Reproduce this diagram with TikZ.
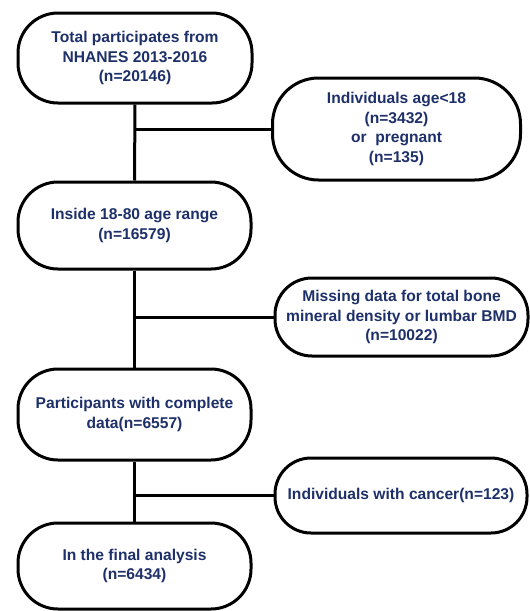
\documentclass[tikz,border=0pt]{standalone}
\usepackage{fontspec}
\setmainfont{Liberation Sans}
\definecolor{navy}{RGB}{30,48,105}
\tikzset{
  flowbox/.style={draw=black, line width=3pt, fill=white, rounded corners=40pt,
    align=center, text=navy, font=\fontsize{15.6}{19.5}\selectfont\bfseries, inner sep=0pt},
  link/.style={line width=3pt, black}
}
\begin{document}
\begin{tikzpicture}[x=1pt,y=-1pt]
\useasboundingbox (0,0) rectangle (530,611);
\node[flowbox, minimum width=234pt, minimum height=90pt] (b1) at (135,58) {Total participates from\\NHANES 2013-2016\\(n=20146)};
\node[flowbox, minimum width=248pt, minimum height=102pt, rounded corners=46pt] (b2) at (396.5,129) {Individuals age<18\\(n=3432)\\or\ \ pregnant\\(n=135)};
\node[flowbox, minimum width=233pt, minimum height=87pt] (b3) at (134.5,225.5) {Inside 18-80 age range\\(n=16579)};
\node[flowbox, minimum width=253pt, minimum height=78pt, rounded corners=37pt] (b4) at (401.5,317) {Missing data for total bone\\mineral density or lumbar BMD\\(n=10022)};
\node[flowbox, minimum width=233pt, minimum height=91pt] (b5) at (134.5,414.5) {Participants with complete\\data(n=6557)};
\node[flowbox, minimum width=252pt, minimum height=75pt, rounded corners=36pt] (b6) at (401,495.5) {Individuals with cancer(n=123)};
\node[flowbox, minimum width=233pt, minimum height=86pt] (b7) at (134.5,566) {In the final analysis\\(n=6434)};
\coordinate (j1) at (b1.south |- b2.west);
\coordinate (j2) at (b3.south |- b4.west);
\coordinate (j3) at (b5.south |- b6.west);
\draw[link] (b1.south) -- (b3.north);
\draw[link] (b3.south) -- (b5.north);
\draw[link] (b5.south) -- (b7.north);
\draw[link] (j1) -- (b2.west);
\draw[link] (j2) -- (b4.west);
\draw[link] (j3) -- (b6.west);
\end{tikzpicture}
\end{document}
